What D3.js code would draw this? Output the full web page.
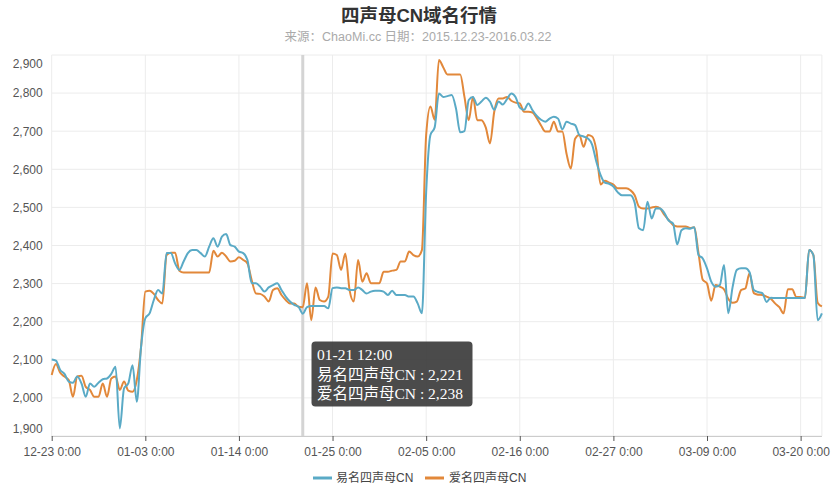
<!DOCTYPE html>
<html><head><meta charset="utf-8">
<script src="https://cdn.jsdelivr.net/npm/d3@7"></script>
<style>body{margin:0;background:#fff}svg{display:block}</style>
</head><body>
<svg id="c" width="834" height="491"></svg>
<script>
// ---------- data ----------
const titleText = "四声母CN域名行情";
const subtitleText = "来源：ChaoMi.cc 日期：2015.12.23-2016.03.22";
const seriesNames = ["易名四声母CN", "爱名四声母CN"];
const seriesColors = ["#5aaac6", "#e2883a"];
const startDate = new Date(2015, 11, 23, 0, 0);
const stepHours = 12;
// 易名四声母CN (every 12 hours from 2015-12-23 0:00)
const yiming = [
 2101,2098,2073,2063,2043,2040,2056,2038,2003,2038,2029,2040,2049,2051,2063,2082,1920,2025,2038,2086,
 1990,2134,2209,2222,2257,2283,2274,2380,2380,2353,2336,2358,2380,2388,2388,2380,2371,2397,2419,2397,
 2423,2430,2401,2397,2384,2380,2362,2301,2301,2292,2279,2290,2296,2301,2283,2266,2253,2244,2239,2221,
 2238,2241,2241,2241,2241,2235,2288,2290,2288,2288,2283,2283,2290,2283,2274,2279,2281,2281,2279,2270,
 2281,2270,2270,2270,2266,2266,2248,2222,2540,2690,2710,2799,2790,2792,2795,2760,2697,2700,2782,2790,
 2769,2778,2788,2778,2756,2778,2770,2784,2799,2790,2762,2756,2773,2755,2740,2730,2725,2733,2738,2733,
 2705,2725,2720,2716,2690,2686,2681,2665,2620,2585,2565,2562,2555,2540,2532,2532,2532,2512,2445,2440,
 2515,2471,2498,2497,2485,2465,2458,2403,2440,2445,2444,2448,2375,2366,2340,2305,2292,2296,2349,2222,
 2290,2336,2340,2340,2330,2283,2278,2275,2252,2263,2262,2262,2262,2262,2262,2262,2262,2262,2388,2375,
 2204,2222
];
// 爱名四声母CN
const aiming = [
 2060,2089,2066,2056,2047,2003,2056,2058,2029,2021,2003,2003,2038,2003,2051,2056,2021,2043,2019,2016,
 2047,2134,2279,2281,2273,2257,2248,2375,2381,2381,2334,2329,2329,2329,2329,2329,2329,2329,2386,2371,
 2381,2371,2358,2360,2369,2362,2353,2309,2274,2273,2266,2253,2283,2288,2270,2257,2248,2248,2239,2238,
 2301,2204,2290,2257,2253,2266,2379,2375,2336,2379,2283,2253,2362,2305,2327,2301,2301,2301,2331,2331,
 2334,2336,2358,2358,2384,2375,2371,2388,2690,2765,2730,2887,2868,2849,2849,2849,2849,2790,2729,2790,
 2729,2729,2710,2668,2751,2786,2786,2790,2780,2775,2773,2751,2751,2749,2734,2715,2699,2699,2725,2699,
 2699,2640,2602,2680,2690,2659,2690,2686,2650,2560,2570,2565,2560,2550,2550,2550,2545,2532,2502,2497,
 2497,2500,2502,2497,2480,2467,2454,2450,2450,2450,2446,2448,2380,2310,2300,2255,2296,2292,2285,2260,
 2250,2253,2283,2287,2327,2275,2271,2270,2266,2260,2248,2238,2222,2285,2285,2265,2265,2262,2388,2375,
 2250,2240
];
const yTicks = [1900, 2000, 2100, 2200, 2300, 2400, 2500, 2600, 2700, 2800, 2900];
const xTickDays = ["2015-12-23", "2016-01-03", "2016-01-14", "2016-01-25", "2016-02-05",
                   "2016-02-16", "2016-02-27", "2016-03-09", "2016-03-20"];
const tooltipIndex = 59;

// ---------- layout ----------
const svg = d3.select("#c");
const L = 51.7, R = 821.9, T = 55, B = 436;
const times = yiming.map((_, i) => d3.timeHour.offset(startDate, i * stepHours));
const x = d3.scaleTime().domain([times[0], times[times.length - 1]]).range([L, R]);
const y = d3.scaleLinear().domain([1900, 2900]).range([B, T]);
const parse = d3.timeParse("%Y-%m-%d");
const xTicks = xTickDays.map(parse);
const fmtX = d3.timeFormat("%m-%d %-H:%M");
const font = "'Liberation Sans', Arial, 'Noto Sans CJK SC', sans-serif";

// title
svg.append("text").attr("x", 419).attr("y", 22).attr("text-anchor", "middle")
  .attr("font-family", font).attr("font-weight", "bold").attr("font-size", 18.5)
  .attr("fill", "#333").text(titleText);
svg.append("text").attr("x", 418).attr("y", 41).attr("text-anchor", "middle")
  .attr("font-family", font).attr("font-size", 12.5).attr("fill", "#aaa").text(subtitleText);

// grid
const grid = svg.append("g");
grid.selectAll("line.h").data(yTicks).join("line")
  .attr("x1", L).attr("x2", R).attr("y1", d => y(d)).attr("y2", d => y(d))
  .attr("stroke", "#ececec").attr("stroke-width", 1);
grid.selectAll("line.v").data(xTicks.concat([times[times.length - 1]])).join("line")
  .attr("x1", d => x(d)).attr("x2", d => x(d)).attr("y1", T).attr("y2", B)
  .attr("stroke", "#ececec").attr("stroke-width", 1);

// axes
const yAxis = svg.append("g").attr("transform", `translate(${L},0)`)
  .call(d3.axisLeft(y).tickValues(yTicks).tickFormat(d3.format(",")).tickSize(0).tickPadding(9));
yAxis.select(".domain").remove();
yAxis.selectAll("text").attr("font-family", font).attr("font-size", 12).attr("fill", "#555");
yAxis.selectAll(".tick").filter(d => d === 2900).select("text").attr("dy", "1.0em");
yAxis.selectAll(".tick").filter(d => d === 1900).select("text").attr("dy", "-0.3em");

const xAxis = svg.append("g").attr("transform", `translate(0,${B})`)
  .call(d3.axisBottom(x).tickValues(xTicks).tickFormat(fmtX).tickSize(5).tickPadding(6));
xAxis.select(".domain").attr("stroke", "#ccc").attr("d", `M${L},0.5H${R}`);
xAxis.selectAll(".tick line").attr("stroke", "#555");
xAxis.selectAll("text").attr("font-family", font).attr("font-size", 12).attr("fill", "#555");

// crosshair
const tt = times[tooltipIndex];
svg.append("line").attr("x1", x(tt)).attr("x2", x(tt)).attr("y1", T).attr("y2", B)
  .attr("stroke", "#d4d4d4").attr("stroke-width", 3);

// lines
const series = [yiming, aiming];
const lineGen = d3.line().x((d, i) => x(times[i])).y(d => y(d)).curve(d3.curveMonotoneX);
[1, 0].forEach(k => {
  svg.append("path").datum(series[k]).attr("d", lineGen)
    .attr("fill", "none").attr("stroke", seriesColors[k]).attr("stroke-width", 2)
    .attr("stroke-linejoin", "round");
});

// legend
const legend = [{ lx: 313, tx: 336 }, { lx: 425, tx: 449 }];
legend.forEach((p, k) => {
  svg.append("line").attr("x1", p.lx).attr("x2", p.lx + 19).attr("y1", 478).attr("y2", 478)
    .attr("stroke", seriesColors[k]).attr("stroke-width", 3);
  svg.append("text").attr("x", p.tx).attr("y", 482).attr("font-family", font)
    .attr("font-size", 12).attr("fill", "#444").text(seriesNames[k]);
});

// tooltip
const tip = svg.append("g");
tip.append("rect").attr("x", 311.5).attr("y", 341.5).attr("width", 161).attr("height", 65)
  .attr("rx", 4).attr("fill", "rgba(50,50,50,0.88)");
const tf = "'Liberation Serif', 'Times New Roman', 'Noto Sans CJK SC', serif";
const lines = [fmtX(tt)].concat(seriesNames.map((n, k) => `${n} : ${d3.format(",")(series[k][tooltipIndex])}`));
lines.forEach((s, j) => {
  tip.append("text").attr("x", 317).attr("y", 360 + j * 19.5).attr("font-family", tf)
    .attr("font-size", 15.5).attr("fill", "#fff").text(s);
});
</script>
</body></html>
